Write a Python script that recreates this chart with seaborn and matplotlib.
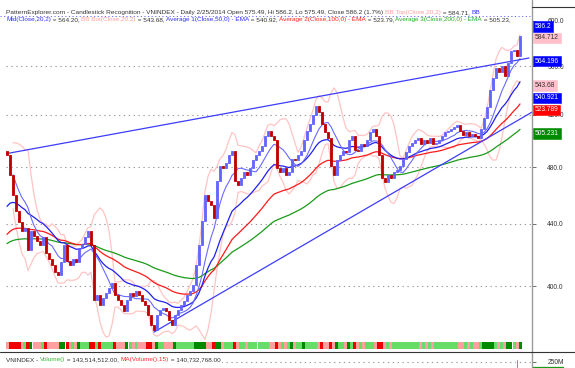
import numpy as np
import pandas as pd
import matplotlib
matplotlib.use("Agg")
import matplotlib.pyplot as plt
from matplotlib.lines import Line2D
from matplotlib.ticker import FixedLocator, FuncFormatter, NullLocator
import seaborn as sns

W, H = 575, 368

# closing prices, one bar ~ 2.6 trading days
closes = [489, 474, 460, 449, 441, 435, 437, 423, 435, 432,
          429, 426, 431, 421, 417, 413, 409, 407, 415, 426,
          416, 413, 417, 415, 424, 427, 431, 435, 426, 392,
          395, 389, 393, 396, 399, 402, 395, 392, 389, 385,
          392, 396, 394, 397, 395, 391, 389, 383, 377, 374,
          383, 386, 387, 385, 380, 377, 383, 386, 389, 391,
          395, 397, 401, 413, 426, 442, 460, 456, 453, 444,
          470, 481, 479, 483, 489, 492, 470, 467, 472, 476,
          474, 479, 485, 489, 492, 496, 503, 507, 503, 500,
          479, 476, 479, 474, 476, 486, 485, 489, 492, 500,
          507, 513, 520, 527, 522, 513, 506, 502, 481, 474,
          485, 489, 492, 491, 500, 503, 493, 492, 497, 496,
          500, 506, 509, 503, 489, 472, 469, 474, 472, 476,
          478, 481, 486, 491, 496, 498, 500, 502, 497, 500,
          498, 502, 497, 498, 500, 503, 506, 507, 509, 510,
          512, 507, 504, 506, 503, 505, 503, 502, 509, 517,
          526, 540, 550, 558, 555, 560, 552, 563, 573, 574,
          569, 586.2]
first_open = 492
days_per_bar = 2.6

# EMA start values at the first bar
ema_periods = [50, 100, 200]
ema_seeds = [452, 433, 427]

# trend lines (bar index, price)
upper_trend_x = [0, 174]
upper_trend_y = [490, 567]
lower_trend_x = [49, 175]
lower_trend_y = [373, 522]

price_ticks = [600, 560, 520, 480, 440, 400]
grid_levels = [560, 520, 480, 440, 400]

tag_text = ["586.2", "584.712", "564.196", "543.68", "540.921", "523.789", "505.231"]
tag_value = [586.2, 584.712, 564.196, 543.68, 540.921, 523.789, 505.231]

vol_bar_x = [170]
vol_bar_y = [258e6]

title_1 = [("PatternExplorer.com - Candlestick Recognition - VNINDEX - Daily 2/25/2014 "
            "Open 575.49, Hi 586.2, Lo 575.49, Close 586.2 (1.7%) ", "#333333"),
           ("BB Top(Close,20,2)", "#ff9f9f"), (" = 584.71, ", "#333333"), ("BB", "#3030ff")]
title_2 = [("Mid(Close,20,2)", "#3030ff"), (" = 564.20, ", "#333333"),
           ("BB Bot(Close,20,2)", "#ff9f9f"), (" = 543.68, ", "#333333"),
           ("Average 1(Close,50,0) - EMA", "#3030ff"), (" = 540.92, ", "#333333"),
           ("Average 2(Close,100,0) - EMA", "#ff2020"), (" = 523.79, ", "#333333"),
           ("Average 3(Close,200,0) - EMA", "#22aa22"), (" = 505.23,", "#333333")]
vol_title = [("VNINDEX - ", "#333333"), ("Volume()", "#33bb33"),
             (" = 143,514,512.00, ", "#333333"), ("MA(Volume(),15)", "#ff3030"),
             (" = 140,732,768.00", "#333333")]

# ---- derived series
idx = np.arange(len(closes))
s = pd.Series(closes, dtype=float)
opens = s.shift(1).fillna(first_open)


def ema(values, span, seed):
    alpha = 2.0 / (span + 1)
    out = [seed]
    for v in values[1:]:
        out.append(out[-1] + alpha * (v - out[-1]))
    return np.array(out)


emas = [ema(closes, p / days_per_bar, sd) for p, sd in zip(ema_periods, ema_seeds)]
bb_win = int(round(20 / days_per_bar))
bb_mid = s.rolling(bb_win, min_periods=3).mean()
bb_sd = s.rolling(bb_win, min_periods=3).std(ddof=0)
bb_top = bb_mid + 2 * bb_sd
bb_bot = bb_mid - 2 * bb_sd

pct = (s - opens) / opens * 100
strip_colors = ["#008a00" if p >= 1.5 else "#66dd66" if p >= 0 else
                "#ee0000" if p <= -1.5 else "#ff9f9f" for p in pct]

# ---- figure
sns.set_style("white")
plt.rcParams['font.family'] = ['Liberation Sans', 'DejaVu Sans']

fig = plt.figure(figsize=(W / 100, H / 100), dpi=100)


def fpos(x0, y0, x1, y1):
    return [x0 / W, 1 - y1 / H, (x1 - x0) / W, (y1 - y0) / H]


ax = fig.add_axes(fpos(6, 16, 532, 352))
strip = fig.add_axes(fpos(6, 342, 532, 349), sharex=ax)
vax = fig.add_axes(fpos(6, 352, 532, 368), sharex=ax)
for a in (ax, strip, vax):
    a.patch.set_alpha(0)
    for sp in a.spines.values():
        sp.set_visible(False)

ax.set_yscale('log')
ax.set_xlim(-1 / 3, 175)
ax.set_ylim(361.8, 604.6)

for lv in grid_levels:
    ax.axhline(lv, color='#999999', lw=0.8, ls=(0, (1.2, 3.2)), zorder=0)

# bollinger bands and averages
sns.lineplot(x=idx, y=bb_top, ax=ax, color='#ffc4c4', lw=0.9, zorder=1)
sns.lineplot(x=idx, y=bb_bot, ax=ax, color='#ffc4c4', lw=0.9, zorder=1)
sns.lineplot(x=idx, y=emas[2], ax=ax, color='#1a9a1a', lw=0.9, zorder=2)
sns.lineplot(x=idx, y=emas[1], ax=ax, color='#ff1a1a', lw=0.9, zorder=2)
sns.lineplot(x=idx, y=emas[0], ax=ax, color='#2020ee', lw=0.9, zorder=2)
sns.lineplot(x=idx, y=bb_mid, ax=ax, color='#6a6aff', lw=0.8, zorder=2)

# trend lines
ax.plot(upper_trend_x, upper_trend_y, color='#3c3cff', lw=0.9, zorder=3)
ax.plot(lower_trend_x, lower_trend_y, color='#3c3cff', lw=0.9, zorder=3)

# candles
up = s >= opens
body_lo = np.minimum(s, opens)
body_h = np.abs(s - opens)
cols = np.where(up, '#6464ff', '#c00000')
ax.bar(idx, body_h, bottom=body_lo, width=0.55, color=cols, edgecolor=cols,
       linewidth=0.6, zorder=4)

ax.set_xlabel('')
ax.set_ylabel('')

# y axis on the right
ax.yaxis.tick_right()
ax.yaxis.set_major_locator(FixedLocator(price_ticks))
ax.yaxis.set_minor_locator(NullLocator())
ax.yaxis.set_major_formatter(FuncFormatter(lambda v, p: f"{v:.1f}"))
ax.tick_params(axis='y', length=3, width=0.6, color='#555555', pad=8,
               labelsize=4.8, labelcolor='#333333', direction='out', right=True)
ax.tick_params(axis='x', bottom=False, labelbottom=False)

# value tags
tag_face = ['#0000ff', '#ffc0cb', '#0000ff', '#ffc0cb', '#0000ff', '#ff0000', '#008a00']
tag_fg = ['white', '#333333', 'white', '#333333', 'white', 'white', 'white']
tag_shift = [7, 0, 0, 0, -6.5, 0, 0]
for t, v, fc, tc, dy in zip(tag_text, tag_value, tag_face, tag_fg, tag_shift):
    ax.annotate(t, xy=(1, v), xycoords=('axes fraction', 'data'), xytext=(2.2, dy),
                textcoords='offset points', ha='left', va='center', fontsize=4.8,
                color=tc, zorder=6, annotation_clip=False,
                bbox=dict(boxstyle='square,pad=0.25', fc=fc, ec=fc, lw=0.4))

# signal strip
strip.bar(idx, 1, width=1.0, color=strip_colors, linewidth=0)
strip.set_ylim(0, 1)
strip.axis('off')

# volume pane
vax.bar(vol_bar_x, vol_bar_y, width=0.45, color='#ff0000')
vax.set_ylim(235e6, 275e6)
vax.axhline(250e6, color='#999999', lw=0.8, ls=(0, (1.2, 3.2)), zorder=0)
vax.yaxis.tick_right()
vax.yaxis.set_major_locator(FixedLocator([250e6]))
vax.yaxis.set_major_formatter(FuncFormatter(lambda v, p: f"{v / 1e6:.0f}M"))
vax.tick_params(axis='y', length=3, width=0.6, color='#555555', pad=8,
                labelsize=4.8, labelcolor='#333333', right=True)
vax.tick_params(axis='x', bottom=False, labelbottom=False)
vax.set_ylabel('')

# frame lines
fig.add_artist(Line2D([532 / W] * 2, [0, 1], color='#9a9a9a', lw=1.0))
fig.add_artist(Line2D([0, 1], [1 - 352 / H] * 2, color='#333333', lw=0.8))
fig.add_artist(Line2D([532 / W, 1], [1 - 7 / H] * 2, color='#333333', lw=0.8))
fig.add_artist(Line2D([0, 532 / W], [1 - 15.5 / H] * 2, color='#6a6aff', lw=0.7,
                      ls=(0, (1.2, 2.5))))
fig.add_artist(Line2D([533 / W, 563 / W], [1 - 367 / H] * 2, color='#1a9a1a', lw=0.9))

# coloured text rows
renderer = fig.canvas.get_renderer()


def text_width(txt, size):
    t = fig.text(0, 0, txt + "x", fontsize=size)
    w = t.get_window_extent(renderer).width
    t.remove()
    return w


def draw_runs(x, y, pieces, size, bg=None):
    base = text_width("", size)
    cur = ""
    for txt, c in pieces:
        off = text_width(cur, size) - base
        kw = {}
        if bg:
            kw['bbox'] = dict(fc=bg, ec='none', pad=0.6)
        fig.text((x + off) / W, 1 - y / H, txt, color=c, fontsize=size,
                 va='baseline', ha='left', **kw)
        cur += txt


draw_runs(6, 14, title_1, 4.68)
draw_runs(6, 21.5, title_2, 4.6)
draw_runs(6, 361.5, vol_title, 4.6, bg='white')

fig.savefig("out.png", dpi=100)
